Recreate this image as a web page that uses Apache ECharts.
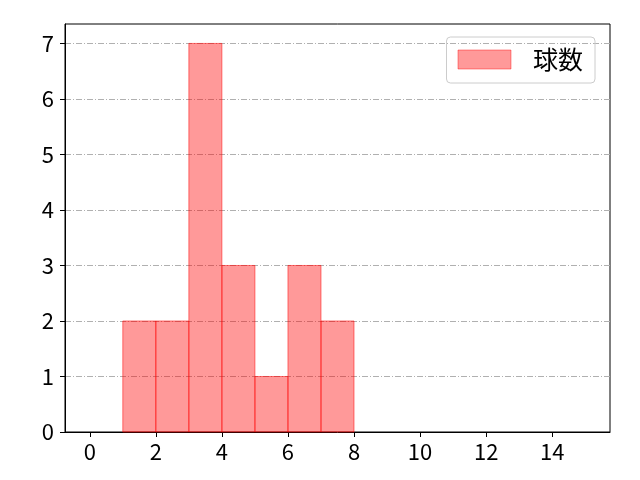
<!DOCTYPE html>
<html>
<head>
<meta charset="utf-8">
<script src="https://cdn.jsdelivr.net/npm/echarts@6/dist/echarts.min.js"></script>
<style>html,body{margin:0;padding:0;background:#fff}#c{width:640px;height:480px}</style>
</head>
<body>
<div id="c"></div>
<script>
var binStarts = [1, 2, 3, 4, 5, 6, 7];
var binEnds = [2, 3, 4, 5, 6, 7, 8];
var counts = [2, 2, 7, 3, 1, 3, 2];
var seriesName = '球数';
var xTicks = [0, 2, 4, 6, 8, 10, 12, 14];
var yTicks = [0, 1, 2, 3, 4, 5, 6, 7];

var FONT = '"Noto Sans CJK JP", "Noto Sans", sans-serif';
var data = binStarts.map(function (s, i) { return [s, binEnds[i], counts[i]]; });

var chart = echarts.init(document.getElementById('c'), null, { renderer: 'canvas' });
chart.setOption({
  animation: false,
  backgroundColor: '#fff',
  grid: { left: 65, right: 30, top: 24, bottom: 48, show: true, borderColor: '#000', borderWidth: 1, backgroundColor: 'transparent' },
  legend: {
    right: 45, top: 37,
    padding: [10, 12, 11, 11],
    borderColor: '#cccccc', borderWidth: 1, borderRadius: 4,
    itemWidth: 53, itemHeight: 19, itemGap: 22,
    textStyle: { fontSize: 25, fontFamily: FONT, color: '#000', padding: [0, 0, 0, 17] },
    data: [{ name: seriesName, icon: 'rect', itemStyle: { color: 'rgba(255,0,0,0.4)', borderColor: 'rgba(255,0,0,0.4)', borderWidth: 1 } }]
  },
  xAxis: {
    type: 'value', min: -0.75, max: 15.75, splitNumber: 8,
    axisLine: { show: true, onZero: false, lineStyle: { color: '#000', width: 1 } },
    axisTick: { show: true, inside: false, length: 5, customValues: xTicks, lineStyle: { color: '#000' } },
    axisLabel: { fontSize: 22, fontFamily: FONT, color: '#000', margin: 9, customValues: xTicks },
    splitLine: { show: false }
  },
  yAxis: {
    type: 'value', min: 0, max: 7.35, interval: 1,
    axisLine: { show: true, onZero: false, lineStyle: { color: '#000', width: 1 } },
    axisTick: { show: true, inside: false, length: 5, customValues: yTicks, lineStyle: { color: '#000' } },
    axisLabel: { fontSize: 22, fontFamily: FONT, color: '#000', margin: 11, customValues: yTicks },
    splitLine: { show: true, lineStyle: { color: '#b0b0b0', width: 1, type: [6, 2, 1, 2] } }
  },
  series: [{
    name: seriesName,
    type: 'custom',
    data: data,
    encode: { x: [0, 1], y: 2 },
    renderItem: function (params, api) {
      var p0 = api.coord([api.value(0), api.value(2)]);
      var p1 = api.coord([api.value(1), 0]);
      return {
        type: 'rect',
        shape: { x: p0[0], y: p0[1], width: p1[0] - p0[0], height: p1[1] - p0[1] },
        style: { fill: 'rgba(255,0,0,0.4)', stroke: 'rgba(255,0,0,0.5)', lineWidth: 1 }
      };
    },
    itemStyle: { color: 'rgba(255,0,0,0.4)' }
  }]
});
</script>
</body>
</html>
